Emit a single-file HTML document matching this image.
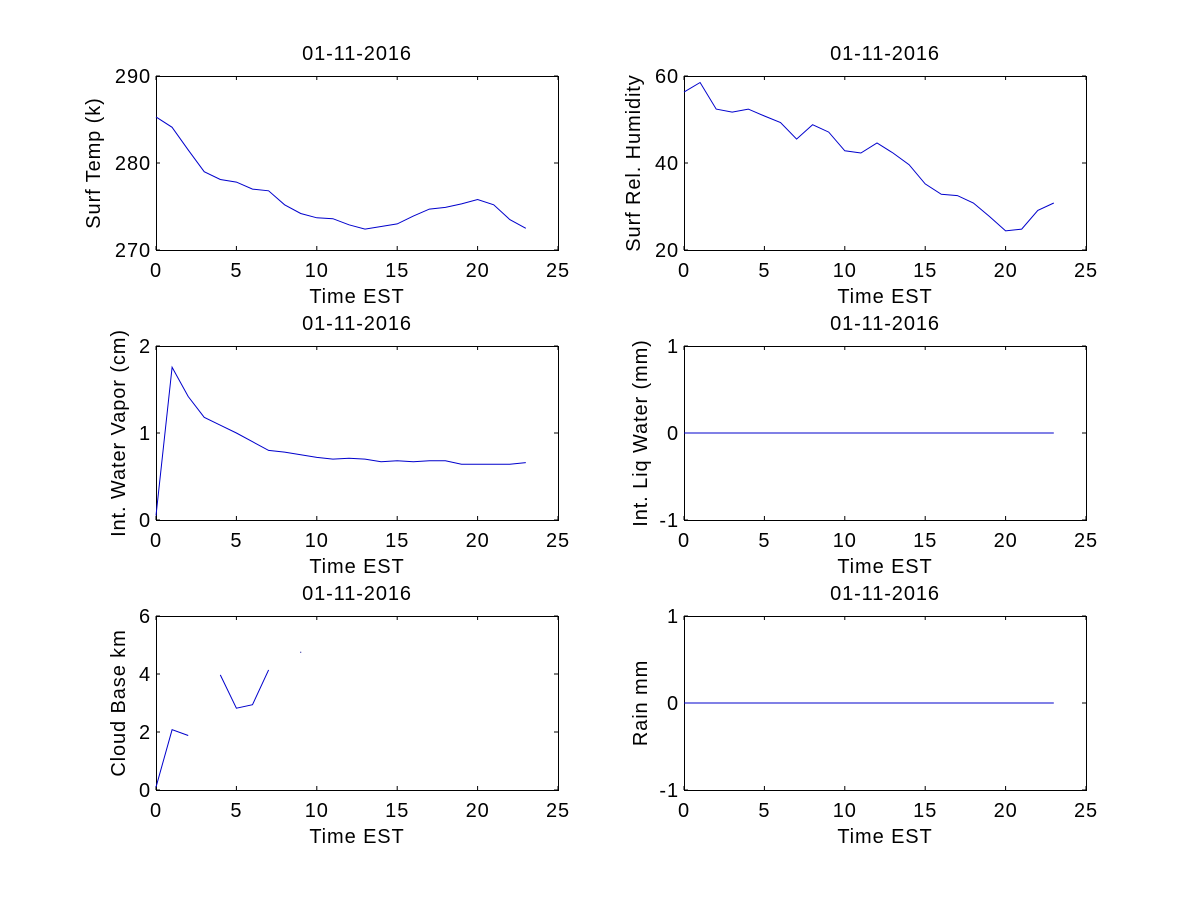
<!DOCTYPE html>
<html><head><meta charset="utf-8"><style>
body{margin:0;background:#fff;}
svg{display:block;}
text{font-family:"Liberation Sans",Arial,sans-serif;fill:#000;letter-spacing:0.9px;}
</style></head><body>
<svg id="fig" width="1200" height="900" viewBox="0 0 1200 900" xmlns="http://www.w3.org/2000/svg"></svg>
<script>
const hours = [0,1,2,3,4,5,6,7,8,9,10,11,12,13,14,15,16,17,18,19,20,21,22,23];
const xTicks = [0,5,10,15,20,25];
const titleText = "01-11-2016";
const tempVals = [285.3,284.1,281.5,279.0,278.1,277.8,277.0,276.8,275.2,274.2,273.7,273.6,272.9,272.4,272.7,273.0,273.9,274.7,274.9,275.3,275.8,275.2,273.5,272.5];
const tempTicks = [270,280,290];
const rhVals = [56.3,58.5,52.4,51.7,52.4,50.8,49.3,45.5,48.8,47.1,42.8,42.3,44.6,42.3,39.6,35.2,32.8,32.5,30.8,27.7,24.4,24.8,29.1,30.8];
const rhTicks = [20,40,60];
const vapVals = [0.05,1.755,1.42,1.18,1.09,1.0,0.90,0.80,0.78,0.75,0.72,0.70,0.71,0.70,0.67,0.68,0.67,0.68,0.68,0.64,0.64,0.64,0.64,0.66];
const vapTicks = [0,1,2];
const liqVals = [0,0,0,0,0,0,0,0,0,0,0,0,0,0,0,0,0,0,0,0,0,0,0,0];
const liqTicks = [-1,0,1];
const cloudVals = [0.1,2.08,1.88,null,3.97,2.82,2.94,4.14,null,4.75,null,null,null,null,null,null,null,null,null,null,null,null,null,null];
const cloudTicks = [0,2,4,6];
const rainVals = [0,0,0,0,0,0,0,0,0,0,0,0,0,0,0,0,0,0,0,0,0,0,0,0];
const rainTicks = [-1,0,1];

const NS="http://www.w3.org/2000/svg";
const svg=document.getElementById('fig');
function mk(tag,attrs,parent){const e=document.createElementNS(NS,tag);for(const k in attrs)e.setAttribute(k,attrs[k]);(parent||svg).appendChild(e);return e;}

const panels=[
 {name:'surf-temp',x:156,y:76,vals:tempVals,ticks:tempTicks,ylab:'Surf Temp (k)',lx:100},
 {name:'surf-humidity',x:684,y:76,vals:rhVals,ticks:rhTicks,ylab:'Surf Rel. Humidity',lx:640},
 {name:'water-vapor',x:156,y:346,vals:vapVals,ticks:vapTicks,ylab:'Int. Water Vapor (cm)',lx:125},
 {name:'liq-water',x:684,y:346,vals:liqVals,ticks:liqTicks,ylab:'Int. Liq Water (mm)',lx:647},
 {name:'cloud-base',x:156,y:616,vals:cloudVals,ticks:cloudTicks,ylab:'Cloud Base km',lx:125},
 {name:'rain',x:684,y:616,vals:rainVals,ticks:rainTicks,ylab:'Rain mm',lx:647}
];
const W=402,H=174,FS=20;
panels.forEach(p=>{
  const g=mk('g',{});
  
  
  const y0=p.ticks[0],y1=p.ticks[p.ticks.length-1];
  const sx=v=>p.x+v/25*W;
  const sy=v=>p.y+H-(v-y0)/(y1-y0)*H;
  const t=mk('text',{x:p.x+W/2,y:p.y-16,'text-anchor':'middle','font-size':FS},g);
  t.textContent=titleText;
  
  
  xTicks.forEach(v=>{
    const X=sx(v);
    mk('line',{x1:X,x2:X,y1:p.y+H,y2:p.y+H-4,stroke:'#000'},g);
    mk('line',{x1:X,x2:X,y1:p.y,y2:p.y+4,stroke:'#000'},g);
    const tl=mk('text',{x:X,y:p.y+H+27,'text-anchor':'middle','font-size':FS},g);
    tl.textContent=v;
    
    
  });
  p.ticks.forEach(v=>{
    const Y=sy(v);
    mk('line',{x1:p.x,x2:p.x+4,y1:Y,y2:Y,stroke:'#000'},g);
    mk('line',{x1:p.x+W,x2:p.x+W-4,y1:Y,y2:Y,stroke:'#000'},g);
    const tl=mk('text',{x:p.x-5,y:Y+7,'text-anchor':'end','font-size':FS},g);
    tl.textContent=v;
    
    
  });
  const fr=mk('rect',{x:p.x+0.5,y:p.y+0.5,width:W,height:H,fill:'none',stroke:'#000','stroke-width':1},g);
  
  
  const xl=mk('text',{x:p.x+W/2,y:p.y+H+53,'text-anchor':'middle','font-size':FS},g);
  xl.textContent='Time EST';
  
  
  const cy=p.y+H/2;
  const yl=mk('text',{x:p.lx,y:cy,'text-anchor':'middle','font-size':FS,transform:'rotate(-90 '+p.lx+' '+cy+')'},g);
  yl.textContent=p.ylab;
  
  
  let segs=[],cur=[];
  hours.forEach((h,i)=>{const v=p.vals[i];if(v===null||v===undefined){if(cur.length)segs.push(cur);cur=[];}else cur.push([sx(h),sy(v)]);});
  if(cur.length)segs.push(cur);
  segs.forEach(s=>{
    if(s.length===1){
      const d=mk('rect',{x:s[0][0]-0.5,y:s[0][1]-0.5,width:1,height:1,fill:'#00008b'},g);
      
      
    } else {
      const l=mk('polyline',{points:s.map(q=>q[0].toFixed(1)+','+q[1].toFixed(1)).join(' '),fill:'none',stroke:'#0000cc','stroke-width':1},g);
      
      
    }
  });
});
</script>
</body></html>
